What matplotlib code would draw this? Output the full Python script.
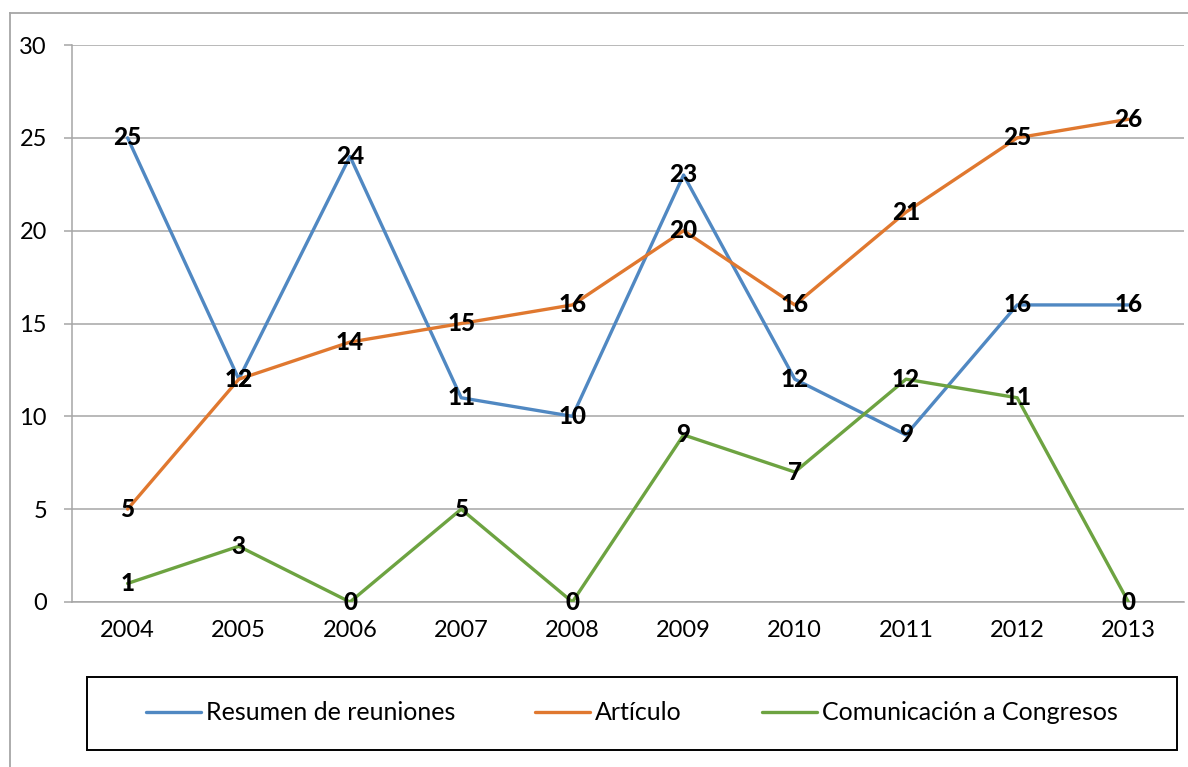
import matplotlib
matplotlib.use("Agg")
import matplotlib.pyplot as plt
from matplotlib.lines import Line2D
from matplotlib.patches import Rectangle

plt.rcParams['font.family'] = ['Lato', 'DejaVu Sans']

years = ['2004', '2005', '2006', '2007', '2008', '2009', '2010', '2011', '2012', '2013']
resumen = [25, 12, 24, 11, 10, 23, 12, 9, 16, 16]
articulo = [5, 12, 14, 15, 16, 20, 16, 21, 25, 26]
comunicacion = [1, 3, 0, 5, 0, 9, 7, 12, 11, 0]
series_names = ['Resumen de reuniones', 'Artículo', 'Comunicación a Congresos']
series_values = [resumen, articulo, comunicacion]
colors = ['#5088C2', '#E0782F', '#6DA341']
yticks = [0, 5, 10, 15, 20, 25, 30]

W, H = 1188, 767
fig = plt.figure(figsize=(W / 100, H / 100), dpi=100)
ax = fig.add_axes([72 / W, 1 - 602 / H, (1184 - 72) / W, (602 - 45) / H])

x = list(range(len(years)))
handles = []
for name, vals, c in zip(series_names, series_values, colors):
    ln, = ax.plot(x, vals, color=c, lw=2.4, solid_capstyle='round', zorder=3, label=name)
    handles.append(ln)
for vals in series_values:
    for xi, v in zip(x, vals):
        ax.text(xi, v, str(v), ha='center', va='center', fontsize=17.5,
                fontweight='black', color='black', zorder=5)

ax.set_xlim(-0.5, len(years) - 0.5)
ax.set_ylim(0, 30)
ax.set_yticks(yticks)
ax.set_xticks(x)
ax.set_xticklabels(years)
ax.yaxis.grid(True, color='#A6A6A6', lw=1.1, zorder=0)
ax.set_axisbelow(True)
for s in ['top', 'right']:
    ax.spines[s].set_visible(False)
ax.spines['left'].set_color('#A6A6A6')
ax.spines['bottom'].set_color('#A6A6A6')
ax.spines['left'].set_linewidth(1.1)
ax.spines['bottom'].set_linewidth(1.1)
ax.tick_params(axis='y', length=6, color='#A6A6A6', width=1.1, labelsize=17, pad=12)
ax.tick_params(axis='x', length=0, labelsize=17, pad=13)

# outer chart border (partially visible)
fig.add_artist(Line2D([10 / W, 10 / W], [-0.01, 1 - 13 / H], color='#A6A6A6', lw=1.3,
                      transform=fig.transFigure))
fig.add_artist(Line2D([10 / W, 1.01], [1 - 13 / H, 1 - 13 / H], color='#A6A6A6', lw=1.3,
                      transform=fig.transFigure))

# legend box
fig.add_artist(Rectangle((87 / W, 1 - 750 / H), (1177 - 87) / W, (750 - 677) / H,
                         transform=fig.transFigure, fill=False, edgecolor='black', lw=1.4))
fig.legend(handles=handles, loc='center', bbox_to_anchor=((87 + 1177) / 2 / W, 1 - 713 / H),
           ncol=3, frameon=False, fontsize=18, handlelength=2.2, handletextpad=0.2,
           columnspacing=3.2)

fig.savefig('out.png', dpi=100)
